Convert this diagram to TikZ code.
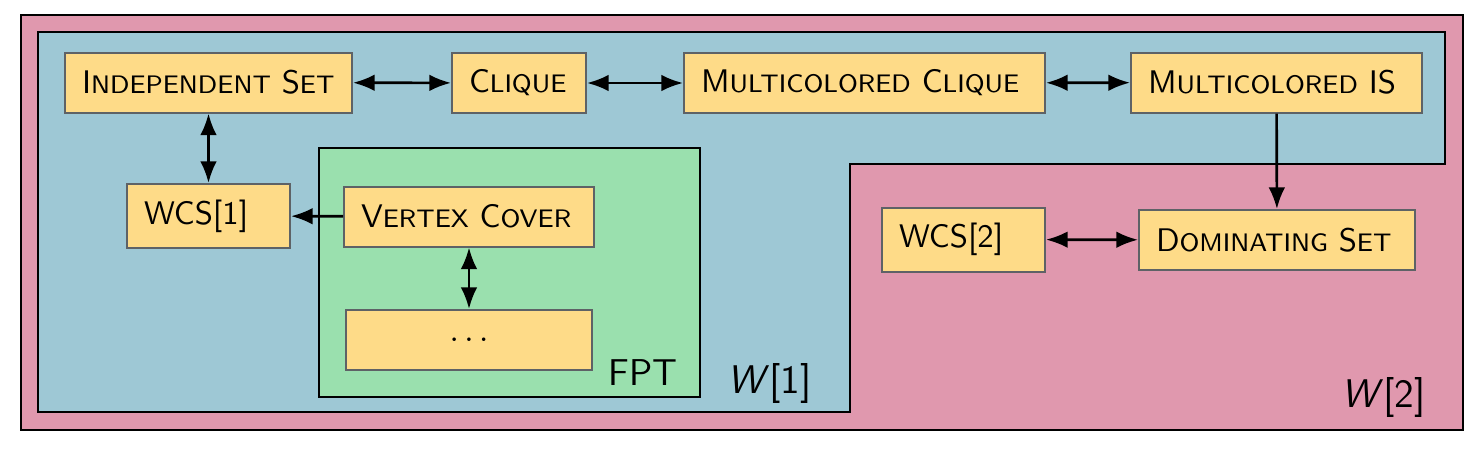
\documentclass[tikz,border=0pt]{standalone}
\usepackage{fontspec}
\usepackage{tikz}
\usetikzlibrary{arrows.meta}

\definecolor{wtwopink}{HTML}{E098AE}
\definecolor{wonefill}{HTML}{9EC8D5}
\definecolor{fptgreen}{HTML}{9AE0AE}
\definecolor{boxyellow}{HTML}{FEDB88}
\definecolor{boxgray}{HTML}{5E6266}

\newcommand\smc[1]{{\fontsize{7.6}{10}\selectfont #1}}

\tikzset{
  prob/.style={draw=boxgray,fill=boxyellow,line width=.6pt,minimum height=18pt,inner xsep=5.1pt,align=left},
  cls/.style={draw=black,line width=.6pt},
  both/.style={line width=.8pt,{Latex[length=6.5pt,width=5pt]}-{Latex[length=6.5pt,width=5pt]}},
  oneway/.style={line width=.8pt,-{Latex[length=6.5pt,width=5pt]}}
}

\begin{document}
\begin{tikzpicture}[x=.3pt,y=.3pt,font=\sffamily\fontsize{9.8}{12}\selectfont]
\useasboundingbox (0,0) rectangle (1476,450);
% classes
\draw[cls,fill=wtwopink] (21,20) rectangle (1463,435);
\draw[cls,fill=wonefill] (38,418)--(1445,418)--(1445,286)--(850,286)--(850,38)--(38,38)--cycle;
\draw[cls,fill=fptgreen] (319,302) rectangle (700,53);
\node[anchor=base east,inner sep=0pt,font=\sffamily\fontsize{11.2}{14}\selectfont] (fpt) at (678,65) {FPT};
\node[anchor=base east,inner sep=0pt,font=\sffamily\fontsize{12}{14}\selectfont] (wone) at (812,57) {\textit{W}[1]};
\node[anchor=base east,inner sep=0pt,font=\sffamily\fontsize{12}{14}\selectfont] (wtwo) at (1426,43) {\textit{W}[2]};
% problems
\node[prob,text width=75.9pt] (indset) at (208.5,367.5) {I\smc{NDEPENDENT}~S\smc{ET}};
\node[prob,text width=30pt] (clique) at (519,367) {C\smc{LIQUE}};
\node[prob,text width=98.1pt] (mcclique) at (864.5,367) {M\smc{ULTICOLORED}~C\smc{LIQUE}};
\node[prob,text width=77.1pt] (mcis) at (1276.5,367.5) {M\smc{ULTICOLORED}~IS};
\node[prob,text width=38.7pt,minimum height=19.2pt] (wcsone) at (208.5,234) {WCS[1]};
\node[prob,text width=64.8pt] (vc) at (469,233.5) {V\smc{ERTEX}~C\smc{OVER}};
\node[prob,text width=63.6pt,align=center] (dots) at (469,110) {$\dots$};
\node[prob,text width=38.7pt,minimum height=19.2pt] (wcstwo) at (963.5,210.5) {WCS[2]};
\node[prob,text width=72.6pt] (domset) at (1277,210) {D\smc{OMINATING}~S\smc{ET}};
% reductions
\draw[both] (indset) -- (clique);
\draw[both] (clique) -- (mcclique);
\draw[both] (mcclique) -- (mcis);
\draw[both] (indset) -- (wcsone);
\draw[oneway] (vc) -- (wcsone);
\draw[both] (vc) -- (dots);
\draw[oneway] (mcis) -- (domset);
\draw[both] (wcstwo) -- (domset);
\end{tikzpicture}
\end{document}
